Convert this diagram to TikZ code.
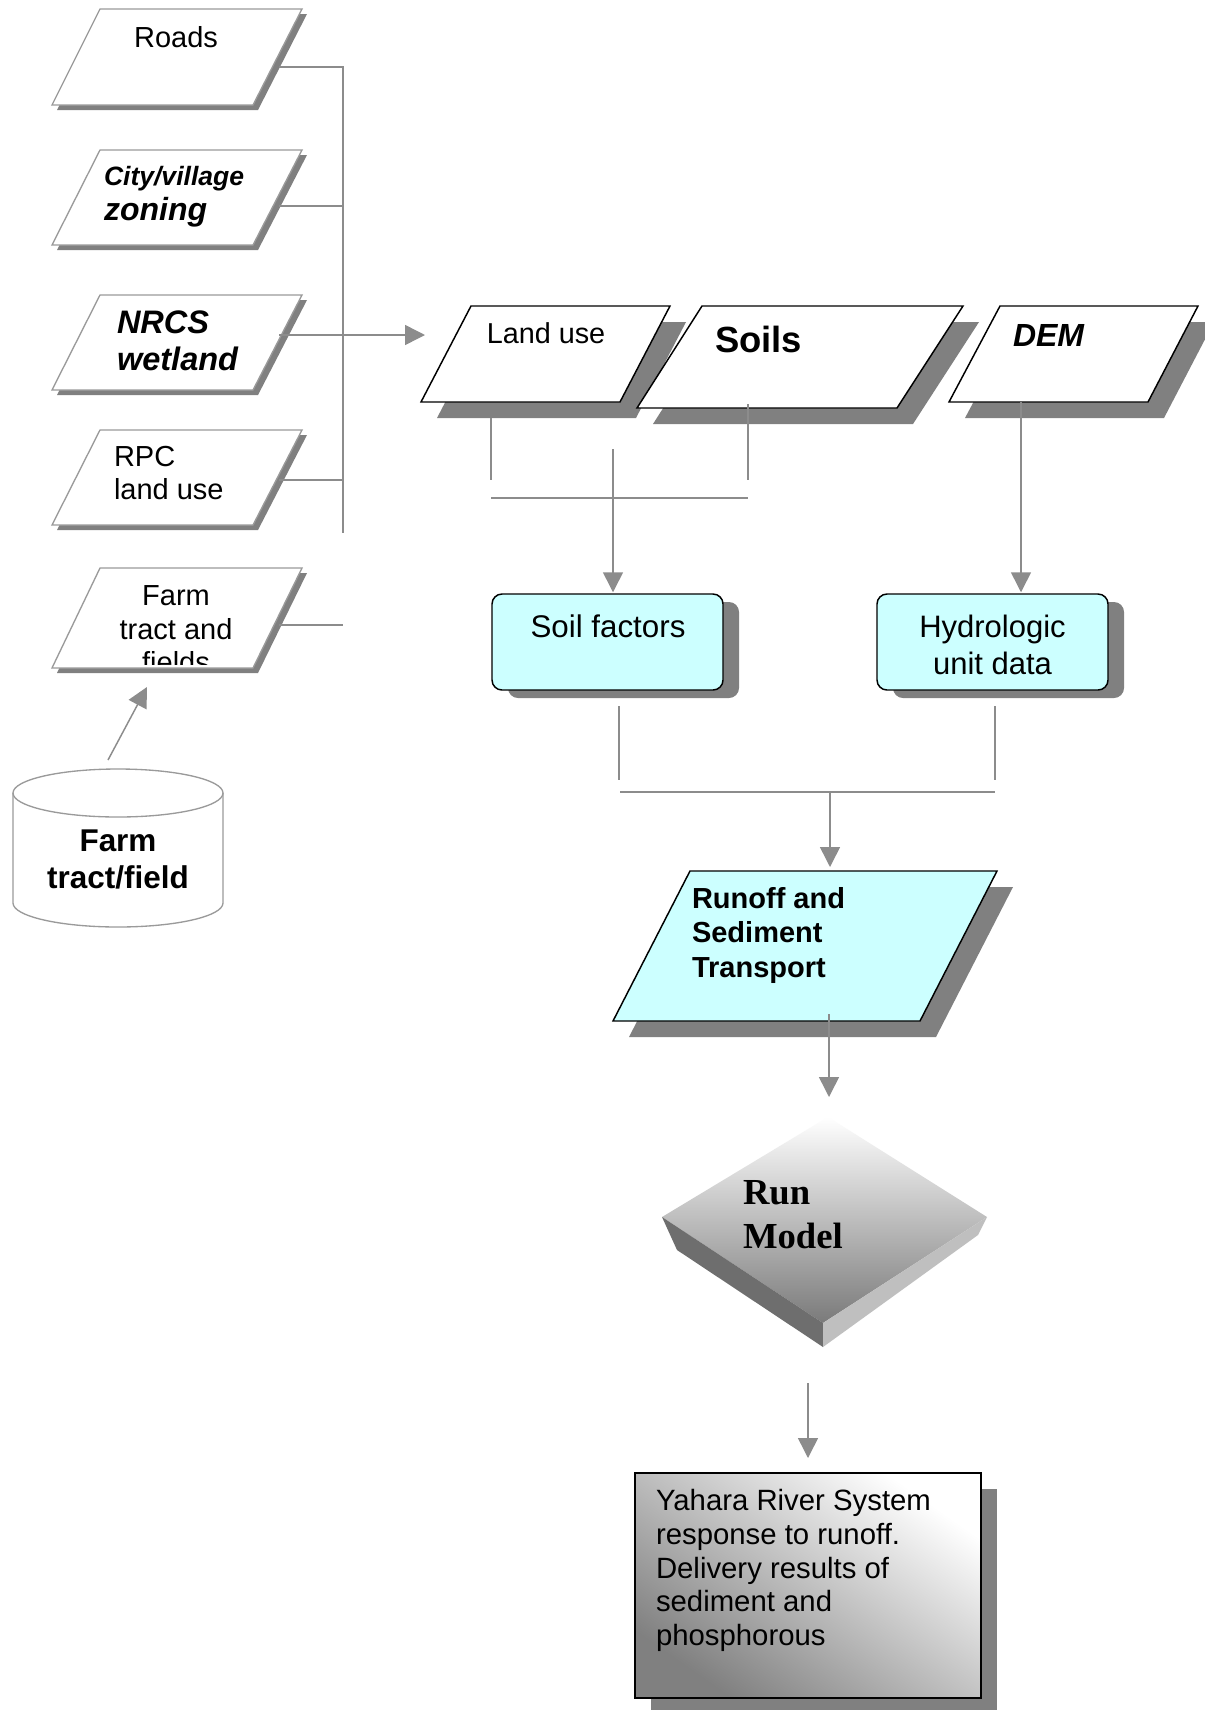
\documentclass[tikz,border=0pt]{standalone}
\usepackage{fontspec}
\setmainfont{Liberation Sans}
\newfontfamily\timesf{Liberation Serif}
\usetikzlibrary{arrows.meta}
\definecolor{shad}{HTML}{808080}
\definecolor{lgray}{HTML}{8C8C8C}
\definecolor{boxgray}{HTML}{9A9A9A}
\definecolor{cyanbox}{HTML}{CCFFFF}
\newcommand\fsz[2]{\fontsize{#1}{#2}\selectfont}
\tikzset{
  conn/.style={draw=lgray, line width=1.1pt},
  arr/.style={conn, -{Triangle[length=15pt,width=15pt]}},
  lpara/.style={draw=boxgray, fill=white, line width=1pt, line join=miter},
  rpara/.style={draw=black, fill=white, line width=1.1pt},
  shadowfill/.style={fill=shad, draw=none},
  txt/.style={inner sep=0pt, outer sep=0pt},
  cbox/.style={draw=black, fill=cyanbox, line width=1.1pt, rounded corners=7.5pt, minimum width=173.25pt, minimum height=72pt, inner sep=0pt},
  sbox/.style={fill=shad, draw=none, rounded corners=7.5pt, minimum width=173.25pt, minimum height=72pt, inner sep=0pt}
}
\begin{document}
\begin{tikzpicture}[x=0.75pt,y=-0.75pt]
\fill[white] (0,0) rectangle (1204,1710);
\useasboundingbox (0,0) rectangle (1204,1710);

% ---------- left column parallelograms ----------
\foreach \t/\b in {9/105,150/245,295/390,430/525,568/668}{
  \fill[shadowfill] (105,\t+5) -- (307,\t+5) -- (258,\b+5) -- (57,\b+5) -- cycle;
  \draw[lpara] (100,\t) -- (302,\t) -- (253,\b) -- (52,\b) -- cycle;
}
\node[txt, font=\fsz{21.75}{25}, anchor=base] (roads) at (176,47) {Roads};
\node[txt, font=\fsz{19.9}{26.5}\bfseries\itshape, anchor=north west, align=left] (city) at (104,166)
  {City/village\\{\fsz{24}{26.5}\bfseries\itshape zoning}};
\node[txt, font=\fsz{24.4}{27.75}\bfseries\itshape, anchor=north west, align=left] (nrcs) at (117,311) {NRCS\\wetland};
\node[txt, font=\fsz{21.75}{25}, anchor=north west, align=left] (rpc) at (114,446) {RPC\\land use};
\begin{scope}
  \clip (40,560) rectangle (320,664);
  \node[txt, font=\fsz{21.75}{25}, anchor=north, align=center] (farm) at (176,586) {Farm\\tract and\\fields};
\end{scope}

% left connectors
\coordinate (roadsR) at (279,67);
\coordinate (cityR) at (279,206);
\coordinate (nrcsR) at (279,335);
\coordinate (rpcR) at (279,480);
\coordinate (farmR) at (279,625);
\coordinate (busT) at (343,67);
\coordinate (busB) at (343,533);
\coordinate (landIn) at (425,335);
\draw[conn] (roadsR) -- (busT) -- (busB);
\draw[conn] (cityR) -- (cityR -| busT);
\draw[conn] (rpcR) -- (rpcR -| busT);
\draw[conn] (farmR) -- (farmR -| busT);
\draw[arr] (nrcsR) -- (landIn);

% database cylinder
\fill[white] (13,793) rectangle (223,903);
\fill[white] (118,903) ellipse [x radius=105, y radius=24];
\draw[boxgray, line width=1pt] (13,793) -- (13,903) arc[start angle=180, end angle=0, x radius=105, y radius=24] -- (223,793);
\draw[boxgray, line width=1pt] (118,793) ellipse [x radius=105, y radius=24];
\node[txt, font=\fsz{23.6}{27.75}\bfseries, anchor=north, align=center] (farmdb) at (118,830) {Farm\\tract/field};
\coordinate (dbTop) at (108,760);
\coordinate (farmIn) at (147,687);
\draw[arr] (dbTop) -- (farmIn);

% ---------- top right parallelograms ----------
\fill[shadowfill] (487,322) -- (686,322) -- (636,418) -- (437,418) -- cycle;
\draw[rpara] (471,306) -- (670,306) -- (620,402) -- (421,402) -- cycle;
\fill[shadowfill] (718,322) -- (979,322) -- (913,424) -- (653,424) -- cycle;
\draw[rpara] (702,306) -- (963,306) -- (897,408) -- (637,408) -- cycle;
\fill[shadowfill] (1016,322) -- (1214,322) -- (1164,418) -- (965,418) -- cycle;
\draw[rpara] (1000,306) -- (1198,306) -- (1148,402) -- (949,402) -- cycle;
\node[txt, font=\fsz{21.6}{25}, anchor=base] (landuse) at (546,343) {Land use};
\node[txt, font=\fsz{27.3}{30}\bfseries, anchor=base west] (soils) at (715,352) {Soils};
\node[txt, font=\fsz{24}{26}\bfseries\itshape, anchor=base west] (dem) at (1013,346) {DEM};

% connectors below
\coordinate (luA) at (491,418);
\coordinate (luB) at (491,480);
\coordinate (soA) at (748,404);
\coordinate (soB) at (748,480);
\coordinate (hL) at (491,498);
\coordinate (hR) at (748,498);
\coordinate (sfA) at (613,449);
\coordinate (demA) at (1021,402);
\draw[conn] (luA) -- (luB);
\draw[conn] (soA) -- (soB);
\draw[conn] (hL) -- (hR);

% rounded boxes
\node[sbox] (soilfS) at (623.5,650) {};
\node[cbox] (soilf) at (607.5,642) {};
\node[sbox] (hydroS) at (1008.5,650) {};
\node[cbox] (hydro) at (992.5,642) {};
\node[txt, font=\fsz{23.5}{27.75}, anchor=base] (soilft) at (608,637) {Soil factors};
\node[txt, font=\fsz{23.25}{27.75}, anchor=north, align=center] (hydrot) at (992.5,615) {Hydrologic\\unit data};
\draw[arr] (sfA) -- ([yshift=0.75pt]soilf.north -| sfA);
\draw[arr] (demA) -- ([yshift=0.75pt]hydro.north -| demA);

\coordinate (sfD1) at (619,706);
\coordinate (sfD2) at (619,780);
\coordinate (hyD1) at (995,706);
\coordinate (hyD2) at (995,780);
\coordinate (jL) at (620,792);
\coordinate (jR) at (995,792);
\coordinate (jM) at (830,792);
\coordinate (runIn) at (830,867);
\draw[conn] (sfD1) -- (sfD2);
\draw[conn] (hyD1) -- (hyD2);
\draw[conn] (jL) -- (jR);
\draw[arr] (jM) -- (runIn);

% runoff parallelogram
\fill[shadowfill] (706,887) -- (1013,887) -- (936,1037) -- (629,1037) -- cycle;
\draw[rpara, fill=cyanbox] (690,871) -- (997,871) -- (920,1021) -- (613,1021) -- cycle;
\node[txt, font=\fsz{21.75}{26}\bfseries, anchor=north west, align=left] (runoff) at (692,887) {Runoff and\\Sediment\\Transport};
\coordinate (roOut) at (829,1014);
\coordinate (modelIn) at (829,1097);
\draw[arr] (roOut) -- (modelIn);

% Run model 3D diamond
\shade[top color=white, bottom color=black!52] (828,1117) -- (987,1217) -- (823,1323) -- (662,1217) -- cycle;
\fill[black!57] (662,1217) -- (823,1323) -- (823,1347) -- (677,1250) -- cycle;
\fill[black!25] (823,1323) -- (987,1217) -- (978,1235) -- (823,1347) -- cycle;
\node[txt, font=\timesf\fsz{27.5}{33}\bfseries, anchor=north west, align=left] (runm) at (743,1180) {Run\\Model};
\coordinate (modelOut) at (808,1383);
\coordinate (yaharaIn) at (808,1458);
\draw[arr] (modelOut) -- (yaharaIn);

% Yahara box
\fill[shadowfill] (651,1489) rectangle (997,1714);
\shade[top color=white, bottom color=black!50, shading angle=-35] (635,1473) rectangle (981,1698);
\draw[black, line width=1pt] (635,1473) rectangle (981,1698);
\node[txt, font=\fsz{22}{25.4}, anchor=north west, align=left] (yahara) at (656,1489)
  {Yahara River System\\response to runoff.\\Delivery results of\\sediment and\\phosphorous};
\end{tikzpicture}
\end{document}
